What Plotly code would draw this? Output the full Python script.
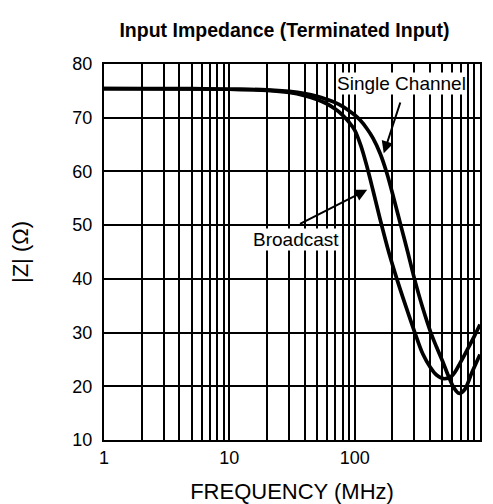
import plotly.graph_objects as go

# Broadcast curve (MHz, ohms)
broadcast_freq = [1, 5, 10, 20, 30, 40, 50, 60, 70, 80, 90, 100, 112, 125,
                  140, 160, 187, 217, 255, 302, 350, 400, 450, 520, 600, 700,
                  800, 900, 1000]
broadcast_z = [75.4, 75.4, 75.3, 75.1, 74.7, 74.1, 73.4, 72.6, 71.6, 70.5,
               69.2, 67.7, 64.8, 61.0, 56.5, 51.0, 45.0, 40.0, 35.0, 30.0,
               26.0, 23.6, 22.1, 21.4, 22.0, 24.5, 27.0, 29.3, 31.5]

# Single channel curve (MHz, ohms)
single_freq = [1, 10, 20, 30, 40, 50, 60, 70, 80, 90, 100, 110, 125, 140,
               160, 180, 205, 233, 265, 300, 345, 405, 450, 500, 560, 620,
               680, 750, 860, 1000]
single_z = [75.4, 75.3, 75.2, 74.9, 74.5, 74.0, 73.4, 72.8, 72.1, 71.3, 70.5,
            69.6, 68.0, 66.2, 63.3, 59.8, 55.0, 50.0, 45.0, 40.0, 35.0, 30.0,
            27.3, 24.8, 21.9, 19.7, 18.7, 19.3, 22.5, 25.9]

x_ticks = [1, 10, 100, 1000]
x_tick_text = ["1", "10", "100", "1000" + "\u00a0" * 4]
x_minor = [m * d for d in [1, 10, 100] for m in range(2, 10)]
y_ticks = [10, 20, 30, 40, 50, 60, 70, 80]

font_name = "Liberation Sans, Arial, sans-serif"

fig = go.Figure()

for xs, ys in [(broadcast_freq, broadcast_z), (single_freq, single_z)]:
    fig.add_trace(go.Scatter(
        x=xs,
        y=ys,
        mode="lines",
        line=dict(color="black", width=3.7, shape="spline", smoothing=1.0),
        showlegend=False,
        hoverinfo="skip"
    ))

fig.update_layout(
    width=493,
    height=504,
    margin=dict(l=96, r=21, t=56, b=72),
    paper_bgcolor="white",
    plot_bgcolor="white",
    font=dict(family=font_name, size=18, color="black"),
    title=dict(
        text="<b>Input Impedance (Terminated Input)</b>",
        xref="paper",
        x=0.48,
        xanchor="center",
        y=1 - 22 / 504,
        yanchor="middle",
        font=dict(size=19.5)
    )
)

fig.update_xaxes(
    type="log",
    range=[0, 3],
    tickvals=x_ticks,
    ticktext=x_tick_text,
    ticks="",
    showgrid=True,
    gridcolor="black",
    gridwidth=1.5,
    minor=dict(tickvals=x_minor, showgrid=True, gridcolor="black",
               gridwidth=1.5, ticks=""),
    showline=True,
    linecolor="black",
    linewidth=2,
    mirror=True,
    zeroline=False,
    automargin=False,
    title=dict(text="FREQUENCY (MHz)", standoff=17)
)

fig.update_yaxes(
    range=[10, 80],
    tickvals=y_ticks,
    ticks="",
    ticklabelstandoff=6,
    showgrid=True,
    gridcolor="black",
    gridwidth=1.5,
    showline=True,
    linecolor="black",
    linewidth=2,
    mirror=True,
    zeroline=False,
    automargin=False,
    title=dict(text="|Z| (Ω)", standoff=40)
)

# labels
fig.add_annotation(x=2.372, y=76.3, text="Single Channel", showarrow=False,
                   bgcolor="white", borderpad=0, font=dict(size=19))
fig.add_annotation(x=1.532, y=47.3, text="Broadcast", showarrow=False,
                   bgcolor="white", borderpad=0, font=dict(size=19))

# arrows
fig.add_annotation(x=2.232, y=63.4, ax=2.368, ay=73.1, axref="x", ayref="y",
                   text="", showarrow=True, arrowhead=2, arrowsize=1.2,
                   arrowwidth=2, arrowcolor="black")
fig.add_annotation(x=2.1, y=56.6, ax=1.552, ay=50.1, axref="x", ayref="y",
                   text="", showarrow=True, arrowhead=2, arrowsize=1.2,
                   arrowwidth=2, arrowcolor="black")

fig.write_html("out.html")
